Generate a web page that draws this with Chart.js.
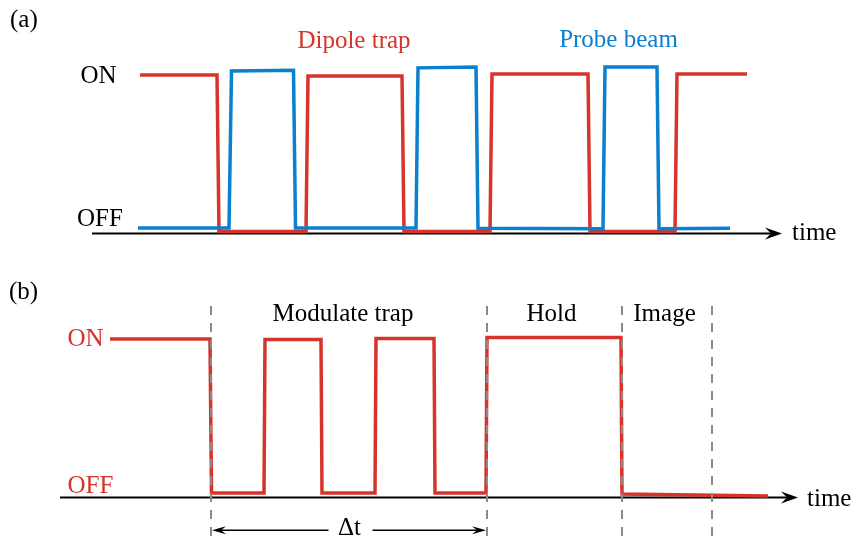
<!DOCTYPE html>
<html>
<head>
<meta charset="utf-8">
<script src="https://cdn.jsdelivr.net/npm/chart.js@4"></script>
<style>
  html, body { margin: 0; padding: 0; background: #ffffff; }
  #wrap { position: relative; width: 852px; height: 539px; overflow: hidden; }
  .panel { position: absolute; left: 0; }
  #panelA { top: 0; }
  #panelB { top: 270px; }
</style>
</head>
<body>
<div id="wrap">
  <canvas id="panelA" class="panel" width="852" height="270"></canvas>
  <canvas id="panelB" class="panel" width="852" height="269"></canvas>
</div>
<script>
// ---- Panel (a): dipole trap and probe beam switching (time units, level 0 = OFF, 1 = ON)
const trapTimesA  = [4.8, 12.5, 12.7, 21.4, 21.6, 31.0, 31.2, 39.8, 40.0, 49.6, 49.8, 58.3, 58.5, 65.5];
const trapLevelsA = [1.00, 1.00, 0.012, 0.012, 0.994, 0.994, 0.012, 0.012, 1.006, 1.006, 0.012, 0.012, 1.006, 1.006];
const probeTimesA  = [4.6, 13.7, 13.95, 20.15, 20.35, 32.4, 32.6, 38.4, 38.6, 51.1, 51.3, 56.5, 56.7, 63.8];
const probeLevelsA = [0.035, 0.035, 1.025, 1.03, 0.035, 0.035, 1.045, 1.05, 0.033, 0.03, 1.05, 1.05, 0.03, 0.033];
const axisEndA = 69.0;

// ---- Panel (b): trap modulation sequence
const trapTimesB  = [5.0, 15.0, 15.15, 20.4, 20.5, 26.1, 26.2, 31.5, 31.6, 37.4, 37.5, 42.6, 42.7, 56.1, 56.2, 70.8];
const trapLevelsB = [0.994, 0.994, 0.028, 0.028, 0.99, 0.99, 0.028, 0.028, 0.997, 0.997, 0.028, 0.028, 1.003, 1.003, 0.022, 0.009];
const phaseBounds = [15.1, 42.7, 56.2, 65.2];
const phaseNames = ['Modulate trap', 'Hold', 'Image'];
const phaseLabelTimes = [28.3, 49.15, 60.45];
const axisEndB = 73.8;

const RED = '#d6342a';
const BLUE = '#0a80cf';
const GREY = '#8a8a8a';
const FONT = '"Liberation Serif", "Times New Roman", serif';

function toPoints(xs, ys) { return xs.map((x, i) => ({ x: x, y: ys[i] })); }

function stealthArrow(ctx, tipX, y, dir, len, half, notch) {
  ctx.beginPath();
  ctx.moveTo(tipX, y);
  ctx.lineTo(tipX - dir * len, y - half);
  ctx.lineTo(tipX - dir * notch, y);
  ctx.lineTo(tipX - dir * len, y + half);
  ctx.closePath();
  ctx.fill();
}

function text(ctx, str, x, y, color, align) {
  ctx.save();
  ctx.font = '25px ' + FONT;
  ctx.fillStyle = color;
  ctx.textAlign = align || 'center';
  ctx.textBaseline = 'alphabetic';
  ctx.fillText(str, x, y);
  ctx.restore();
}

function timeAxis(chart, tEnd) {
  const ctx = chart.ctx;
  const xs = chart.scales.x, ys = chart.scales.y;
  const y0 = ys.getPixelForValue(0);
  const x0 = xs.getPixelForValue(0);
  const x1 = xs.getPixelForValue(tEnd);
  ctx.save();
  ctx.strokeStyle = '#000';
  ctx.fillStyle = '#000';
  ctx.lineWidth = 2;
  ctx.beginPath();
  ctx.moveTo(x0, y0);
  ctx.lineTo(x1 - 8, y0);
  ctx.stroke();
  stealthArrow(ctx, x1, y0, 1, 17, 6, 11);
  ctx.restore();
  return { x1: x1, y0: y0 };
}

function baseOptions(xMin, xMax, yMin, yMax, plugin) {
  return {
    responsive: false,
    animation: false,
    devicePixelRatio: 1,
    layout: { padding: 0 },
    events: [],
    elements: { point: { radius: 0 }, line: { tension: 0, borderJoinStyle: 'miter', borderCapStyle: 'butt' } },
    plugins: { legend: { display: false }, tooltip: { enabled: false }, title: { display: false } },
    scales: {
      x: { type: 'linear', display: false, min: xMin, max: xMax },
      y: { type: 'linear', display: false, min: yMin, max: yMax }
    }
  };
}

// Panel (a) plugin: time axis underneath, labels on top
const panelAPlugin = {
  id: 'panelA',
  beforeDatasetsDraw(chart) { timeAxis(chart, axisEndA); },
  afterDraw(chart) {
    const ctx = chart.ctx;
    const xs = chart.scales.x, ys = chart.scales.y;
    const px = t => xs.getPixelForValue(t);
    const py = v => ys.getPixelForValue(v);
    text(ctx, '(a)', 10, py(1.30), '#000', 'left');
    text(ctx, 'ON', px(0.65), py(1.0) + 8, '#000');
    text(ctx, 'OFF', px(0.8), py(0) - 7, '#000');
    text(ctx, 'Dipole trap', px(26.2), py(1.17), RED);
    text(ctx, 'Probe beam', px(52.65), py(1.178), BLUE);
    const end = px(axisEndA);
    text(ctx, 'time', end + 10, py(0) + 7, '#000', 'left');
  }
};

// Panel (b) plugin: axis, dashed phase markers, Δt span and labels
const panelBPlugin = {
  id: 'panelB',
  beforeDatasetsDraw(chart) { timeAxis(chart, axisEndB); },
  afterDraw(chart) {
    const ctx = chart.ctx;
    const xs = chart.scales.x, ys = chart.scales.y;
    const px = t => xs.getPixelForValue(t);
    const py = v => ys.getPixelForValue(v);

    // dashed phase boundaries
    ctx.save();
    ctx.strokeStyle = GREY;
    ctx.lineWidth = 2;
    ctx.setLineDash([9, 8]);
    phaseBounds.forEach(t => {
      ctx.beginPath();
      ctx.moveTo(px(t), py(1.20));
      ctx.lineTo(px(t), chart.chartArea.bottom);
      ctx.stroke();
    });
    ctx.restore();

    // Δt span over the modulation phase
    const a = px(phaseBounds[0]), b = px(phaseBounds[1]);
    const yArr = py(-0.205);
    const mid = px(28.95);
    ctx.save();
    ctx.strokeStyle = '#000';
    ctx.fillStyle = '#000';
    ctx.lineWidth = 1.5;
    ctx.beginPath();
    ctx.moveTo(a + 6, yArr); ctx.lineTo(mid - 21, yArr);
    ctx.moveTo(mid + 23, yArr); ctx.lineTo(b - 6, yArr);
    ctx.stroke();
    stealthArrow(ctx, a + 1, yArr, -1, 14, 4, 9);
    stealthArrow(ctx, b - 1, yArr, 1, 14, 4, 9);
    ctx.restore();
    text(ctx, '\u0394t', mid, yArr + 5, '#000');

    text(ctx, '(b)', 9, py(1.245), '#000', 'left');
    text(ctx, 'ON', px(2.55), py(1.0) + 8, RED);
    text(ctx, 'OFF', px(3.05), py(0) - 4, RED);
    phaseNames.forEach((n, i) => {
      text(ctx, n, px(phaseLabelTimes[i]), py(1.107), '#000');
    });
    const end = px(axisEndB);
    text(ctx, 'time', end + 9, py(0) + 9, '#000', 'left');
  }
};

// Panel (a): x from -9.2 to 76 (axis origin at t = 0); level 0 sits on the time axis
new Chart(document.getElementById('panelA'), {
  type: 'line',
  data: {
    datasets: [
      { label: 'Probe beam', data: toPoints(probeTimesA, probeLevelsA), borderColor: BLUE, borderWidth: 3.5, fill: false },
      { label: 'Dipole trap', data: toPoints(trapTimesA, trapLevelsA), borderColor: RED, borderWidth: 3.5, fill: false }
    ]
  },
  options: baseOptions(-9.2, 76.0, -0.2303, 1.4732),
  plugins: [panelAPlugin]
});

new Chart(document.getElementById('panelB'), {
  type: 'line',
  data: {
    datasets: [
      { label: 'Dipole trap', data: toPoints(trapTimesB, trapLevelsB), borderColor: RED, borderWidth: 3.5, fill: false }
    ]
  },
  options: baseOptions(-6.0, 79.2, -0.2602, 1.4263),
  plugins: [panelBPlugin]
});
</script>
</body>
</html>
